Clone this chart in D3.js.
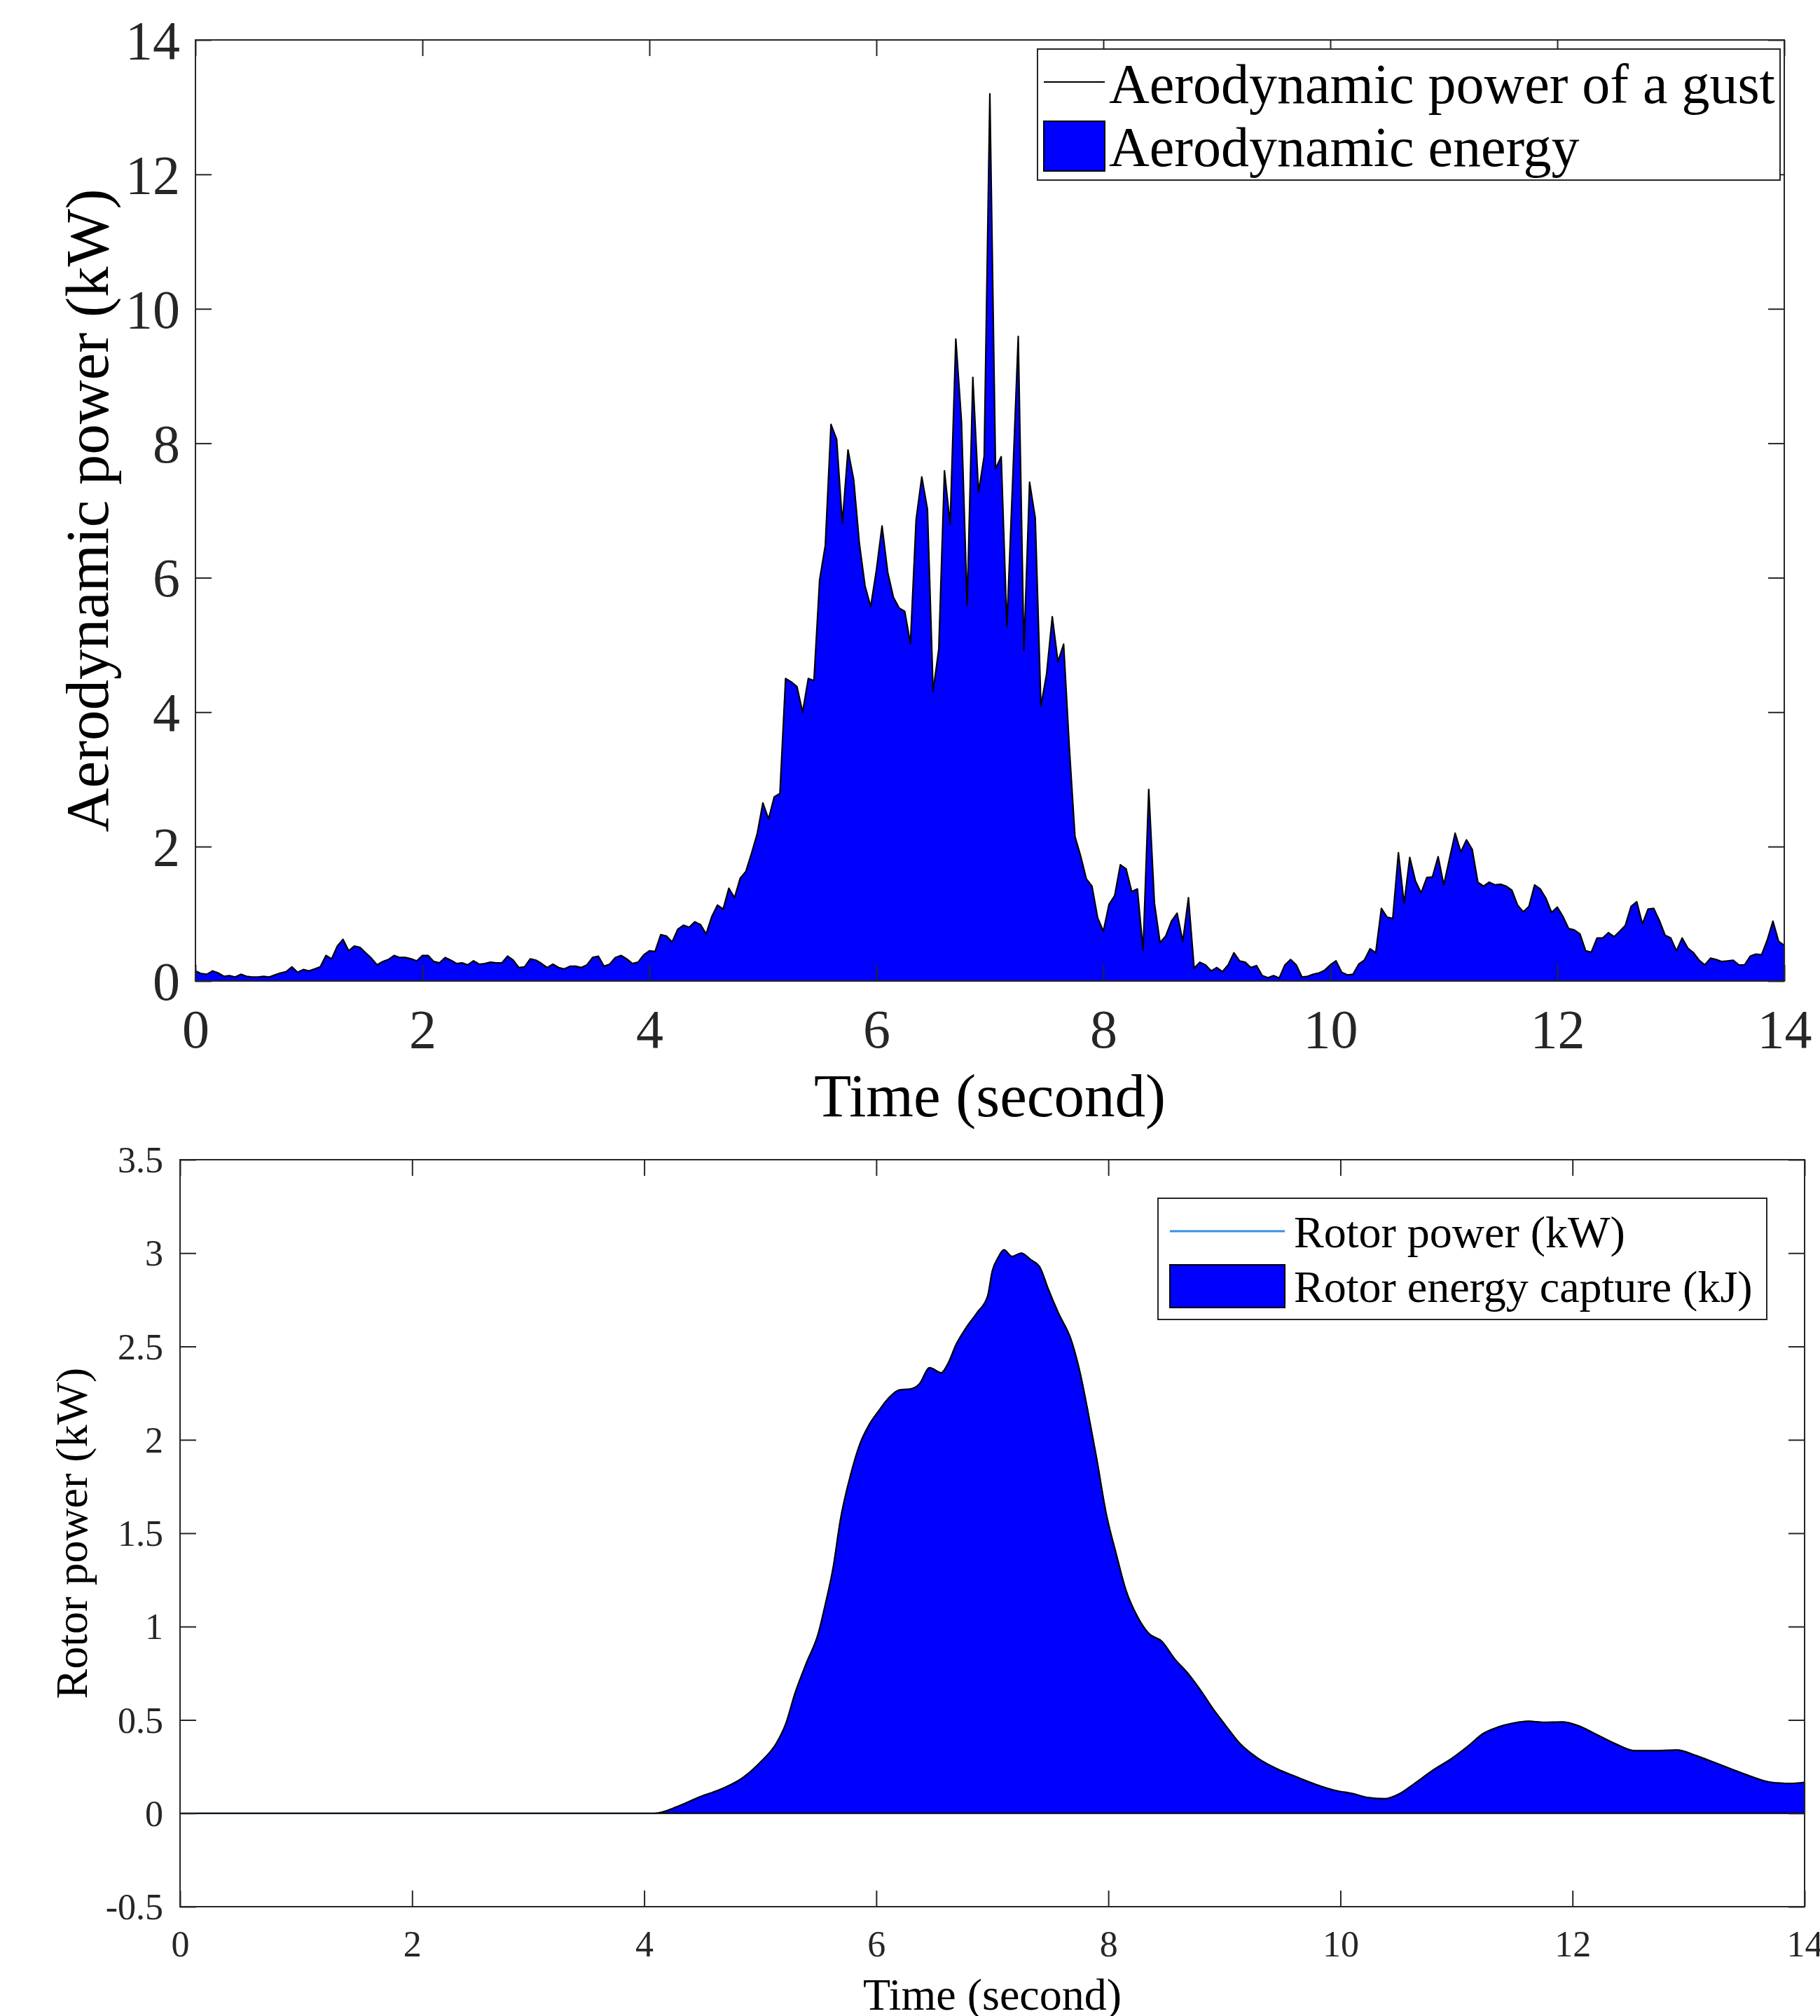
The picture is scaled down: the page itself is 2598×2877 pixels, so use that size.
<!DOCTYPE html>
<html><head><meta charset="utf-8">
<script src="https://cdn.jsdelivr.net/npm/d3@7"></script>
<style>
body{margin:0;background:#fff}
svg text{font-family:"Liberation Serif","Times New Roman",serif}
</style>
</head><body>
<svg id="fig" width="2598" height="2877"></svg>
<script>
// ---------------- DATA ----------------
const gustTime = [
 0,0.05,0.1,0.15,0.2,0.25,0.3,0.35,0.4,0.45,0.5,0.55,0.6,0.65,0.7,0.75,0.8,0.85,0.9,0.95,
 1,1.05,1.1,1.15,1.2,1.25,1.3,1.35,1.4,1.45,1.5,1.55,1.6,1.65,1.7,1.75,1.8,1.85,1.9,1.95,
 2,2.05,2.1,2.15,2.2,2.25,2.3,2.35,2.4,2.45,2.5,2.55,2.6,2.65,2.7,2.75,2.8,2.85,2.9,2.95,
 3,3.05,3.1,3.15,3.2,3.25,3.3,3.35,3.4,3.45,3.5,3.55,3.6,3.65,3.7,3.75,3.8,3.85,3.9,3.95,
 4,4.05,4.1,4.15,4.2,4.25,4.3,4.35,4.4,4.45,4.5,4.55,4.6,4.65,4.7,4.75,4.8,4.85,4.9,4.95,
 5,5.05,5.1,5.15,5.2,5.25,5.3,5.35,5.4,5.45,5.5,5.55,5.6,5.65,5.7,5.75,5.8,5.85,5.9,5.95,
 6,6.05,6.1,6.15,6.2,6.25,6.3,6.35,6.4,6.45,6.5,6.55,6.6,6.65,6.7,6.75,6.8,6.85,6.9,6.95,
 7,7.05,7.1,7.15,7.2,7.25,7.3,7.35,7.4,7.45,7.5,7.55,7.6,7.65,7.7,7.75,7.8,7.85,7.9,7.95,
 8,8.05,8.1,8.15,8.2,8.25,8.3,8.35,8.4,8.45,8.5,8.55,8.6,8.65,8.7,8.75,8.8,8.85,8.9,8.95,
 9,9.05,9.1,9.15,9.2,9.25,9.3,9.35,9.4,9.45,9.5,9.55,9.6,9.65,9.7,9.75,9.8,9.85,9.9,9.95,
 10,10.05,10.1,10.15,10.2,10.25,10.3,10.35,10.4,10.45,10.5,10.55,10.6,10.65,10.7,10.75,10.8,10.85,10.9,10.95,
 11,11.05,11.1,11.15,11.2,11.25,11.3,11.35,11.4,11.45,11.5,11.55,11.6,11.65,11.7,11.75,11.8,11.85,11.9,11.95,
 12,12.05,12.1,12.15,12.2,12.25,12.3,12.35,12.4,12.45,12.5,12.55,12.6,12.65,12.7,12.75,12.8,12.85,12.9,12.95,
 13,13.05,13.1,13.15,13.2,13.25,13.3,13.35,13.4,13.45,13.5,13.55,13.6,13.65,13.7,13.75,13.8,13.85,13.9,13.95,
 14
];
const gustPower = [
 0.15,0.11,0.10,0.15,0.12,0.07,0.08,0.06,0.10,0.07,0.06,0.06,0.07,0.06,0.09,0.12,0.14,0.21,0.13,0.17,
 0.15,0.18,0.21,0.38,0.33,0.52,0.62,0.45,0.52,0.50,0.42,0.34,0.24,0.29,0.32,0.38,0.35,0.35,0.33,0.30,
 0.38,0.38,0.29,0.27,0.35,0.31,0.26,0.27,0.24,0.30,0.25,0.26,0.28,0.27,0.27,0.37,0.31,0.20,0.21,0.33,
 0.31,0.26,0.20,0.25,0.20,0.18,0.22,0.22,0.20,0.24,0.35,0.37,0.22,0.25,0.35,0.38,0.33,0.26,0.28,0.39,
 0.45,0.44,0.69,0.67,0.58,0.77,0.83,0.80,0.88,0.84,0.70,0.96,1.13,1.07,1.38,1.24,1.53,1.63,1.90,2.19,
 2.65,2.41,2.74,2.79,4.50,4.45,4.38,4.00,4.50,4.47,5.97,6.48,8.28,8.06,6.81,7.90,7.46,6.51,5.88,5.57,
 6.11,6.77,6.08,5.71,5.55,5.50,5.02,6.86,7.50,7.02,4.31,4.94,7.59,6.79,9.55,8.32,5.59,8.98,7.27,7.81,
 13.20,7.62,7.80,5.27,7.40,9.59,4.92,7.42,6.89,4.09,4.57,5.42,4.75,5.01,3.48,2.15,1.86,1.52,1.41,0.94,
 0.74,1.14,1.27,1.73,1.67,1.33,1.37,0.46,2.85,1.16,0.57,0.67,0.89,1.01,0.59,1.24,0.19,0.28,0.24,0.15,
 0.20,0.14,0.24,0.42,0.30,0.28,0.20,0.23,0.08,0.05,0.08,0.045,0.24,0.32,0.24,0.06,0.07,0.10,0.12,0.16,
 0.24,0.30,0.13,0.09,0.10,0.25,0.31,0.48,0.42,1.08,0.95,0.93,1.91,1.15,1.84,1.49,1.31,1.54,1.55,1.85,
 1.43,1.82,2.20,1.92,2.10,1.96,1.47,1.41,1.47,1.43,1.44,1.41,1.35,1.13,1.03,1.11,1.43,1.37,1.23,1.02,
 1.10,0.96,0.78,0.76,0.70,0.45,0.43,0.64,0.64,0.72,0.66,0.74,0.83,1.11,1.18,0.85,1.07,1.08,0.90,0.68,
 0.64,0.45,0.64,0.49,0.42,0.31,0.24,0.34,0.32,0.29,0.30,0.31,0.24,0.24,0.37,0.40,0.39,0.61,0.89,0.59,
 0.53
];
const rotorTime = [
 0,4.09,4.29,4.48,4.68,4.85,5.0,5.14,5.22,5.3,5.4,5.5,5.56,5.63,5.69,5.78,5.86,5.94,6.02,6.11,
 6.2,6.3,6.37,6.46,6.56,6.62,6.69,6.77,6.87,6.96,7.0,7.05,7.1,7.17,7.25,7.33,7.41,7.48,7.57,7.68,
 7.76,7.82,7.9,7.98,8.07,8.15,8.25,8.35,8.46,8.57,8.69,8.8,8.9,9.0,9.13,9.29,9.46,9.62,9.79,9.95,
 10.11,10.24,10.38,10.51,10.64,10.8,10.96,11.1,11.23,11.36,11.49,11.62,11.75,11.91,12.05,12.21,12.37,12.54,12.7,12.9,
 13.06,13.22,13.39,13.55,13.71,13.88,14.0
];
const rotorPower = [
 0,0,0.037,0.088,0.134,0.191,0.273,0.376,0.479,0.643,0.808,0.962,1.116,1.321,1.568,1.815,1.979,2.082,2.154,2.226,
 2.267,2.273,2.298,2.386,2.359,2.411,2.513,2.596,2.682,2.770,2.904,2.976,3.017,2.982,3.0,2.965,2.924,2.811,2.678,2.534,
 2.349,2.164,1.897,1.609,1.383,1.198,1.054,0.962,0.921,0.828,0.746,0.654,0.561,0.479,0.376,0.294,0.236,0.195,0.154,0.123,
 0.105,0.084,0.078,0.105,0.160,0.232,0.294,0.360,0.427,0.462,0.483,0.493,0.487,0.489,0.469,0.421,0.372,0.335,0.335,0.339,
 0.310,0.273,0.232,0.195,0.166,0.160,0.166
];
const timeTicks = [0,2,4,6,8,10,12,14];
const gustTicks = [0,2,4,6,8,10,12,14];
const rotorTicks = [-0.5,0,0.5,1,1.5,2,2.5,3,3.5];
const gustLegend = ["Aerodynamic power of a gust","Aerodynamic energy"];
const rotorLegend = ["Rotor power (kW)","Rotor energy capture (kJ)"];

// ---------------- DRAW ----------------
const svg = d3.select("#fig");
const AX = "#262626", BLUE = "#0000ff";

function panel(o){
  const g = svg.append("g");
  const x = d3.scaleLinear().domain([0,14]).range([o.left,o.right]);
  const y = d3.scaleLinear().domain(o.ydom).range([o.bottom,o.top]);
  const pts = o.t.map((t,i)=>({t, v:o.v[i]}));
  if (o.lineColor) {
    g.append("path").datum(pts)
      .attr("d", d3.line().curve(o.curve).x(d=>x(d.t)).y(d=>y(d.v)))
      .attr("fill","none").attr("stroke",o.lineColor).attr("stroke-width",2);
  }
  g.append("path").datum(pts)
    .attr("d", d3.area().curve(o.curve).x(d=>x(d.t)).y0(y(0)).y1(d=>y(d.v)))
    .attr("fill",BLUE).attr("stroke","#000").attr("stroke-width",2.2).attr("stroke-linejoin","round");

  const style = (s, fs) => {
    s.select(".domain").remove();
    s.selectAll(".tick line").attr("stroke",AX).attr("stroke-width",2);
    s.selectAll(".tick text").attr("fill",AX).style("font-size",fs+"px")
      .attr("font-family","Liberation Serif, Times New Roman, serif");
  };
  const T = o.tickLen;
  g.append("g").attr("transform",`translate(0,${o.bottom})`)
    .call(d3.axisBottom(x).tickValues(o.xticks).tickSize(-T).tickSizeOuter(0).tickFormat(d3.format("d")))
    .call(s=>style(s,o.tickFont))
    .call(s=>s.selectAll(".tick text").attr("y",o.xLabelBase).attr("dy",null));
  g.append("g").attr("transform",`translate(0,${o.top})`)
    .call(d3.axisTop(x).tickValues(o.xticks).tickSize(-T).tickSizeOuter(0).tickFormat(""))
    .call(s=>style(s,o.tickFont));
  g.append("g").attr("transform",`translate(${o.left},0)`)
    .call(d3.axisLeft(y).tickValues(o.yticks).tickSize(-T).tickSizeOuter(0).tickFormat(d=>String(d)))
    .call(s=>style(s,o.tickFont))
    .call(s=>s.selectAll(".tick text").attr("x",-o.yLabelGap).attr("dy","0.34em"));
  g.append("g").attr("transform",`translate(${o.right},0)`)
    .call(d3.axisRight(y).tickValues(o.yticks).tickSize(-T).tickSizeOuter(0).tickFormat(""))
    .call(s=>style(s,o.tickFont));
  g.append("rect").attr("x",o.left).attr("y",o.top).attr("width",o.right-o.left).attr("height",o.bottom-o.top)
    .attr("fill","none").attr("stroke",AX).attr("stroke-width",2);

  g.append("text").attr("x",(o.left+o.right)/2).attr("y",o.xTitleBase)
    .attr("text-anchor","middle").attr("fill","#000").style("font-size",o.titleFont+"px").text("Time (second)");
  g.append("text").attr("transform",`translate(${o.yTitleX},${(o.top+o.bottom)/2}) rotate(-90)`)
    .attr("text-anchor","middle").attr("fill","#000").style("font-size",o.titleFont+"px").text(o.yTitle);

  // legend
  const L = o.legend;
  const lg = g.append("g");
  lg.append("rect").attr("x",L.x0).attr("y",L.y0).attr("width",L.x1-L.x0).attr("height",L.y1-L.y0)
    .attr("fill","#fff").attr("stroke",AX).attr("stroke-width",2);
  lg.append("line").attr("x1",L.sx0).attr("x2",L.sx1).attr("y1",L.lineY).attr("y2",L.lineY)
    .attr("stroke",L.lineColor).attr("stroke-width",L.lineW);
  lg.append("rect").attr("x",L.sx0).attr("y",L.patchY0).attr("width",L.sx1-L.sx0).attr("height",L.patchY1-L.patchY0)
    .attr("fill",BLUE).attr("stroke","#000").attr("stroke-width",2);
  lg.selectAll("text.leg").data(L.labels).join("text").attr("class","leg")
    .attr("x",L.tx).attr("y",(d,i)=>L.base[i]).attr("fill","#000")
    .style("font-size",L.font+"px").text(d=>d);
}

panel({
  t:gustTime, v:gustPower, curve:d3.curveLinear,
  left:279, right:2547, top:57, bottom:1400, ydom:[0,14],
  xticks:timeTicks, yticks:gustTicks, tickLen:23, tickFont:78,
  xLabelBase:95, yLabelGap:22, titleFont:87, xTitleBase:1593, yTitleX:154,
  yTitle:"Aerodynamic power (kW)",
  legend:{x0:1481,x1:2541,y0:70,y1:257,sx0:1490,sx1:1577,lineY:117,lineColor:"#000",lineW:2,
    patchY0:173,patchY1:244,tx:1583,base:[147,237],font:80,labels:gustLegend}
});

panel({
  t:rotorTime, v:rotorPower, curve:d3.curveMonotoneX, lineColor:"#3d8ee0",
  left:257, right:2576, top:1655, bottom:2721, ydom:[-0.5,3.5],
  xticks:timeTicks, yticks:rotorTicks, tickLen:23, tickFont:52,
  xLabelBase:71, yLabelGap:24, titleFont:64, xTitleBase:2868, yTitleX:124,
  yTitle:"Rotor power (kW)",
  legend:{x0:1653,x1:2522,y0:1710,y1:1883,sx0:1670,sx1:1834,lineY:1757,lineColor:"#3d8ee0",lineW:3,
    patchY0:1805,patchY1:1866,tx:1847,base:[1780,1858],font:64,labels:rotorLegend}
});
</script>
</body></html>
